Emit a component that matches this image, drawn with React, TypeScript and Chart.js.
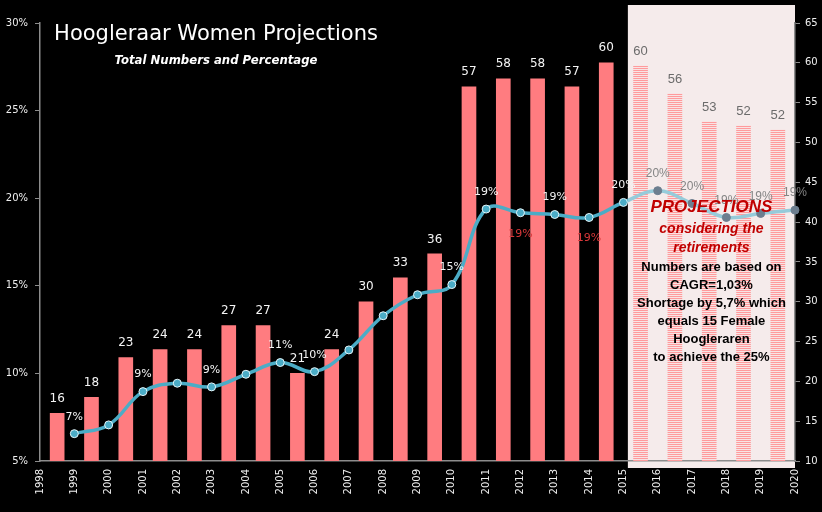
import React, { useEffect, useRef } from 'react';
import { Chart, registerables } from 'chart.js';

Chart.register(...registerables);

// ---- data ----
const years = ['1998', '1999', '2000', '2001', '2002', '2003', '2004', '2005', '2006', '2007', '2008', '2009', '2010', '2011', '2012', '2013', '2014', '2015', '2016', '2017', '2018', '2019', '2020'];
const actualCounts = [16, 18, 23, 24, 24, 27, 27, 21, 24, 30, 33, 36, 57, 58, 58, 57, 60];
const projectedCounts = [59.6, 56.1, 52.6, 52.1, 51.6];
const womenPct = [6.56, 7.06, 8.96, 9.44, 9.23, 9.95, 10.62, 10.1, 11.34, 13.29, 14.49, 15.07, 19.38, 19.17, 19.07, 18.9, 19.76, 20.43, 19.7, 18.9, 19.13, 19.32];
// where each percentage label is shown: a = above, b = below, '' = hidden
const pctLabelPos = ['a', '', 'a', '', 'a', '', 'a', 'a', '', '', '', 'a', 'a', 'b', 'a', 'b', 'a', 'a', 'a', 'a', 'a', 'a'];
const pctAxisMin = 5;
const pctAxisMax = 30;
const countAxisMin = 10;
const countAxisMax = 65;
const axisStep = 5;
const titleText = 'Hoogleraar Women Projections';
const subtitleText = 'Total Numbers and Percentage';
const projHeading = ['PROJECTIONS'];
const projSubHeading = ['considering the', 'retirements'];
const projNotes = ['Numbers are based on', 'CAGR=1,03%', 'Shortage by 5,7% which', 'equals 15 Female', 'Hoogleraren', 'to achieve the 25%'];

const barCounts = [...actualCounts, ...projectedCounts];
const pctSeries = [null, ...womenPct];
const projStartBar = actualCounts.length; // first projected bar index
const projStartPoint = actualCounts.length + 1; // first projected point index (tick-space)

const DV = '"DejaVu Sans", Verdana, sans-serif';
const LS = '"Liberation Sans", Arial, sans-serif';
const AXIS = '#8c8c8c';
const TICK_TXT = '#eeeeee';
const BAR = '#ff7c80';
const LINE = '#4bacc6';
const LINE_PROJ = '#96cbda';
const MARK_PROJ = '#6d7e8f';

function projLeft(chart: any): number {
  const xb = chart.scales.xb;
  const w = xb.getPixelForValue(1) - xb.getPixelForValue(0);
  return xb.getPixelForValue(projStartBar) - 0.37 * w;
}

const backgroundPlugin = {
  id: 'bgProj',
  beforeDraw(chart: any) {
    const { ctx, chartArea: a, width, height } = chart;
    ctx.save();
    ctx.fillStyle = '#000000';
    ctx.fillRect(0, 0, width, height);
    const l = projLeft(chart);
    ctx.fillStyle = '#f5ebeb';
    ctx.fillRect(l, a.top - 18, a.right - l, a.bottom + 7 - (a.top - 18));
    ctx.restore();
  },
};

const labelsPlugin = {
  id: 'valueLabels',
  afterDatasetsDraw(chart: any) {
    const { ctx } = chart;
    ctx.save();
    ctx.textAlign = 'center';
    ctx.textBaseline = 'middle';
    const barMeta = chart.getDatasetMeta(1);
    barMeta.data.forEach((el: any, i: number) => {
      const v = barCounts[i];
      if (i < projStartBar) {
        ctx.fillStyle = '#f4f4f4';
        ctx.font = `12px ${DV}`;
      } else {
        ctx.fillStyle = '#6b6b6b';
        ctx.font = `13px ${LS}`;
      }
      ctx.fillText(String(Math.round(v)), el.x, el.y - 14.5);
    });
    const lineMeta = chart.getDatasetMeta(0);
    lineMeta.data.forEach((el: any, i: number) => {
      if (i === 0) return;
      const pos = pctLabelPos[i - 1];
      if (!pos) return;
      const v = pctSeries[i] as number;
      const txt = Math.round(v) + '%';
      if (i >= projStartPoint) {
        ctx.fillStyle = '#858585';
        ctx.font = `12px ${LS}`;
      } else if (pos === 'b') {
        ctx.fillStyle = '#d8383a';
        ctx.font = `11px ${DV}`;
      } else {
        ctx.fillStyle = '#f4f4f4';
        ctx.font = `11px ${DV}`;
      }
      const y = pos === 'a' ? el.y - 17 : el.y + 21;
      ctx.fillText(txt, el.x, y);
    });
    ctx.restore();
  },
  afterDraw(chart: any) {
    const { ctx, chartArea: a } = chart;
    ctx.save();
    ctx.textAlign = 'center';
    ctx.textBaseline = 'middle';
    ctx.fillStyle = '#ffffff';
    ctx.font = `21px ${DV}`;
    ctx.fillText(titleText, 216, a.top + 12);
    ctx.font = `italic bold 11.7px ${DV}`;
    ctx.fillText(subtitleText, 216, a.top + 38);

    const cx = (projLeft(chart) + a.right) / 2;
    const baseY = a.top + 184;
    ctx.fillStyle = '#c00000';
    ctx.font = `italic bold 17px ${LS}`;
    ctx.fillText(projHeading[0], cx, baseY);
    ctx.font = `italic bold 14px ${LS}`;
    projSubHeading.forEach((t, i) => ctx.fillText(t, cx, baseY + 22 + i * 19));
    ctx.fillStyle = '#000000';
    ctx.font = `bold 13px ${LS}`;
    projNotes.forEach((t, i) => ctx.fillText(t, cx, baseY + 60 + i * 18));
    ctx.restore();
  },
};

export default function App() {
  const ref = useRef<HTMLCanvasElement | null>(null);

  useEffect(() => {
    const canvas = ref.current;
    if (!canvas) return;
    const pat = document.createElement('canvas');
    pat.width = 4;
    pat.height = 2;
    const pc = pat.getContext('2d')!;
    pc.fillStyle = '#f8e4e4';
    pc.fillRect(0, 0, 4, 2);
    pc.fillStyle = '#ff9a9c';
    pc.fillRect(0, 0, 4, 1);
    const stripes = canvas.getContext('2d')!.createPattern(pat, 'repeat');

    const chart = new Chart(canvas, {
      type: 'bar',
      data: {
        labels: years,
        datasets: [
          {
            type: 'line',
            label: '% women',
            data: pctSeries as any,
            xAxisID: 'x',
            yAxisID: 'y',
            order: 0,
            tension: 0.4,
            borderWidth: 3.5,
            borderColor: (c: any) => {
              const ch = c.chart;
              const area = ch.chartArea;
              if (!area || !ch.scales || !ch.scales.xb) return LINE;
              const l = projLeft(ch);
              let t = (l - area.left) / (area.right - area.left);
              t = Math.max(0, Math.min(1, t));
              const g = ch.ctx.createLinearGradient(area.left, 0, area.right, 0);
              g.addColorStop(0, LINE);
              g.addColorStop(t, LINE);
              g.addColorStop(Math.min(1, t + 0.0001), LINE_PROJ);
              g.addColorStop(1, LINE_PROJ);
              return g;
            },
            pointRadius: 4,
            pointBorderWidth: 1,
            pointBackgroundColor: (c: any) => (c.dataIndex >= projStartPoint ? MARK_PROJ : LINE),
            pointBorderColor: (c: any) => (c.dataIndex >= projStartPoint ? MARK_PROJ : '#e6f6fa'),
          } as any,
          {
            type: 'bar',
            label: 'Women',
            data: barCounts,
            xAxisID: 'xb',
            yAxisID: 'y1',
            order: 1,
            grouped: false,
            backgroundColor: (c: any) => (c.dataIndex >= projStartBar ? stripes : BAR),
            borderWidth: 0,
            barThickness: 14,
          } as any,
        ],
      },
      options: {
        responsive: false,
        animation: false,
        devicePixelRatio: 1,
        layout: { padding: { top: 23, left: 0, right: 0, bottom: 0 } },
        plugins: {
          legend: { display: false },
          tooltip: { enabled: false },
          title: { display: false },
        },
        scales: {
          x: {
            type: 'category',
            labels: years,
            position: 'bottom',
            offset: false,
            grid: { display: false, drawTicks: false },
            border: { display: true, color: AXIS, width: 1.5 },
            ticks: {
              color: TICK_TXT,
              font: { family: DV, size: 10 },
              minRotation: 90,
              maxRotation: 90,
              autoSkip: false,
              padding: 8,
            },
            afterFit: (s: any) => {
              s.height = 51;
            },
          },
          xb: {
            type: 'category',
            labels: years.slice(1),
            offset: true,
            display: false,
          },
          y: {
            position: 'left',
            min: pctAxisMin,
            max: pctAxisMax,
            ticks: {
              stepSize: axisStep,
              color: TICK_TXT,
              font: { family: DV, size: 10 },
              padding: 7,
              callback: (v: any) => v + '%',
            },
            grid: { display: true, drawOnChartArea: false, drawTicks: true, tickLength: 5, color: AXIS },
            border: { display: true, color: AXIS, width: 1.5 },
            afterFit: (s: any) => {
              s.width = 40;
            },
          },
          y1: {
            position: 'right',
            min: countAxisMin,
            max: countAxisMax,
            ticks: {
              stepSize: axisStep,
              color: TICK_TXT,
              font: { family: DV, size: 10 },
              padding: 5,
            },
            grid: { display: true, drawOnChartArea: false, drawTicks: true, tickLength: 5, color: AXIS },
            border: { display: true, color: AXIS, width: 1.5 },
            afterFit: (s: any) => {
              s.width = 27;
            },
          },
        },
      } as any,
      plugins: [backgroundPlugin, labelsPlugin],
    });
    return () => chart.destroy();
  }, []);

  return (
    <div style={{ position: 'fixed', left: 0, top: 0, width: 822, height: 512, background: '#000' }}>
      <canvas ref={ref} width={822} height={512} style={{ display: 'block', width: 822, height: 512 }} />
    </div>
  );
}
